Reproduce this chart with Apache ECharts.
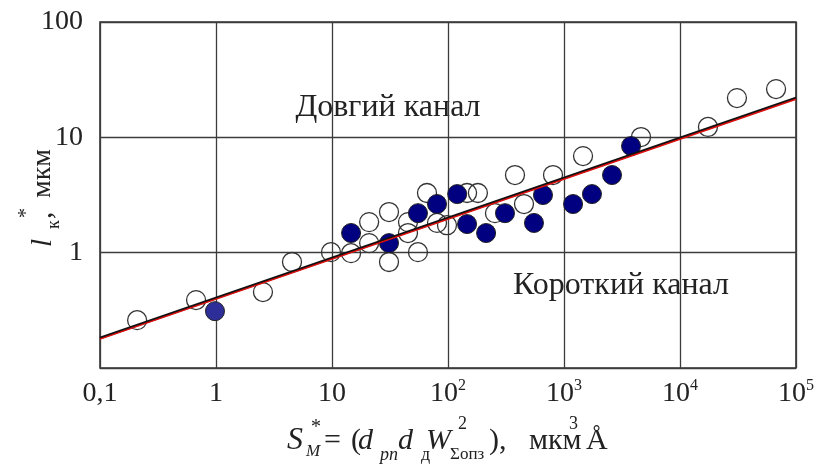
<!DOCTYPE html>
<html><head><meta charset="utf-8">
<script src="https://cdn.jsdelivr.net/npm/echarts@6/dist/echarts.min.js"></script>
<style>html,body{margin:0;padding:0;background:#fff}#c{width:822px;height:468px}</style>
</head><body><div id="c"></div>
<script>
// Open circles (x, y)
const openX = [0.209, 0.673, 2.54, 4.52, 9.8, 14.6, 20.9, 20.9, 31, 31, 45.2, 45.2, 55.1, 65.9, 80.4, 98, 146, 181, 254, 452, 378, 804, 1459, 4613, 17420, 30970, 67300];
const openY = [0.26, 0.388, 0.455, 0.83, 1.01, 0.99, 1.84, 1.21, 2.25, 0.83, 1.84, 1.48, 1.01, 3.29, 1.81, 1.73, 3.29, 3.29, 2.2, 2.64, 4.71, 4.71, 6.88, 10.06, 12.3, 21.9, 26.2];
// Filled circles (x, y)
const filledX = [0.98, 14.6, 31, 55.1, 80.4, 120, 146, 213, 310, 551, 659, 1197, 1742, 2594, 3784];
const filledY = [0.311, 1.48, 1.21, 2.2, 2.64, 3.22, 1.77, 1.48, 2.2, 1.81, 3.16, 2.64, 3.22, 4.71, 8.4];
// Fit line endpoints
const fitX = [0.1, 100000];
const fitY = [0.182, 21.9];
const fitRedY = [0.178, 21.4];
// Tick labels by decade exponent
const xTickExps = [-1, 0, 1, 2, 3, 4, 5];
const xTickLabels = ['0,1', '1', '10', '10^2', '10^3', '10^4', '10^5'];
const yTickExps = [-1, 0, 1, 2];
const yTickLabels = ['', '1', '10', '100'];
const regionLabels = ['Довгий канал', 'Короткий канал'];

const FONT = "'Liberation Serif', 'Times New Roman', serif";
const TXT = '#222';

function fmtX(v) {
  const e = Math.round(Math.log10(v));
  const i = xTickExps.indexOf(e);
  if (i < 0) return '';
  const s = xTickLabels[i];
  if (s.indexOf('^') >= 0) {
    const p = s.split('^');
    return '{n|' + p[0] + '}{s|' + p[1] + '}';
  }
  return '{n|' + s + '}';
}
function fmtY(v) {
  const e = Math.round(Math.log10(v));
  const i = yTickExps.indexOf(e);
  return i < 0 ? '' : yTickLabels[i];
}

const chart = echarts.init(document.getElementById('c'), null, {renderer: 'canvas'});

const openData = openX.map((x, i) => [x, openY[i]]);
const filledData = filledX.map((x, i) => {
  const d = {value: [x, filledY[i]]};
  if (i === 0) d.itemStyle = {color: '#2e2e98'};
  return d;
});

// x-axis title pieces: [text, x, y, size, italic]
const M = 30;
const xt = [
  ['S', 287, 441, 32, true],
  ['*', 311, 428, 20, false],
  ['M', 306, 452, 17, true],
  ['=', 324, 441, M, false],
  ['(', 351, 441, M, false],
  ['d', 358, 441, M, true],
  ['pn', 380, 455, 18, true],
  ['d', 398, 441, M, true],
  ['д', 421, 455, 18, false],
  ['W', 426, 441, M, true],
  ['2', 458, 424, 18, false],
  ['Σопз', 450, 455, 17, false],
  ['),', 489, 441, M, false],
  ['мкм', 529, 441, M, false],
  ['3', 569, 424, 18, false],
  ['Å', 586, 441, M, false]
];
const xtElems = xt.map(p => ({
  type: 'text', x: p[1], y: p[2], z: 100,
  style: {text: p[0], font: (p[4] ? 'italic ' : '') + p[3] + 'px ' + FONT, fill: TXT,
          align: 'left', verticalAlign: 'middle', textAlign: 'left', textVerticalAlign: 'middle'}
}));

// y-axis title pieces in local (rotated) coords: [text, lx, ly, size, italic]
const yt = [
  ['l', 0, -9, 29, true],
  ['к', 18, 2, 18, false],
  ['*', 29, -25, 20, false],
  [',', 28, -9, 29, false],
  ['мкм', 49, -9, 28, false]
];
const ytElems = yt.map(p => ({
  type: 'text', x: p[1], y: p[2],
  style: {text: p[0], font: (p[4] ? 'italic ' : '') + p[3] + 'px ' + FONT, fill: TXT,
          align: 'left', verticalAlign: 'middle', textAlign: 'left', textVerticalAlign: 'middle'}
}));

function boxLabel(text, cx, cy, x0, y0, w, h) {
  return {
    type: 'group', z: 50,
    children: [
      {type: 'rect', shape: {x: x0, y: y0, width: w, height: h}, style: {fill: '#fff'}},
      {type: 'text', x: cx, y: cy, style: {text: text, font: '32px ' + FONT, fill: TXT,
        align: 'center', verticalAlign: 'middle', textAlign: 'center', textVerticalAlign: 'middle'}}
    ]
  };
}

chart.setOption({
  animation: false,
  backgroundColor: '#fff',
  grid: {left: 100, top: 22, right: 26, bottom: 100, show: true, borderColor: '#333', borderWidth: 1.6, backgroundColor: 'transparent'},
  xAxis: {
    type: 'log', logBase: 10, min: 0.1, max: 100000, interval: 1,
    axisLine: {show: false}, axisTick: {show: false},
    splitLine: {show: true, lineStyle: {color: '#3c3c3c', width: 1.3}},
    minorTick: {show: false}, minorSplitLine: {show: false},
    axisLabel: {
      margin: 10, formatter: fmtX, color: TXT,
      rich: {
        n: {fontFamily: FONT, fontSize: 28, color: TXT, lineHeight: 32},
        s: {fontFamily: FONT, fontSize: 16, color: TXT, verticalAlign: 'top', lineHeight: 16}
      }
    }
  },
  yAxis: {
    type: 'log', logBase: 10, min: 0.1, max: 100, interval: 1,
    axisLine: {show: false}, axisTick: {show: false},
    splitLine: {show: true, lineStyle: {color: '#3c3c3c', width: 1.3}},
    minorTick: {show: false}, minorSplitLine: {show: false},
    axisLabel: {margin: 17, formatter: fmtY, fontFamily: FONT, fontSize: 28, color: TXT}
  },
  graphic: [
    boxLabel(regionLabels[0], 388, 108, 289, 89, 200, 46),
    boxLabel(regionLabels[1], 621, 286, 505, 263, 233, 45),
    {type: 'group', children: xtElems},
    {type: 'group', x: 52, y: 247, rotation: Math.PI / 2, children: ytElems}
  ],
  series: [
    {
      type: 'scatter', data: openData, symbol: 'circle', symbolSize: 19, z: 2,
      itemStyle: {color: 'rgba(255,255,255,0)', borderColor: '#333', borderWidth: 1.3, opacity: 1}
    },
    {
      type: 'scatter', data: filledData, symbol: 'circle', symbolSize: 19, z: 3,
      itemStyle: {color: '#000080', borderColor: '#222', borderWidth: 1, opacity: 1}
    },
    {
      type: 'line', data: fitX.map((x, i) => [x, fitY[i]]), symbol: 'none', z: 4,
      lineStyle: {color: '#111', width: 2.6}
    },
    {
      type: 'line', data: fitX.map((x, i) => [x, fitRedY[i]]), symbol: 'none', z: 5,
      lineStyle: {color: '#e01010', width: 1.4}
    }
  ]
});
</script>
</body></html>
